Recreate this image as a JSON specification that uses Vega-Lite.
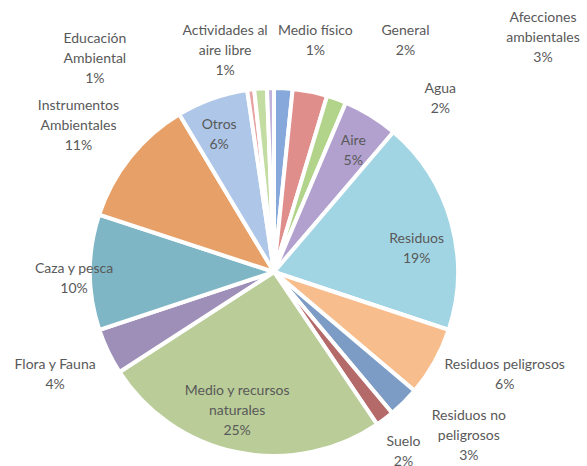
{
  "$schema": "https://vega.github.io/schema/vega-lite/v6.json",
  "autosize": "none",
  "width": 548,
  "height": 388,
  "padding": {"left": 0, "top": 78, "right": 39, "bottom": 0},
  "background": "white",
  "title": {"text": "ANUAL 2017", "font": "Lato", "fontSize": 27, "fontWeight": "bold", "color": "#000000", "anchor": "middle", "frame": "group", "baseline": "alphabetic", "offset": -10, "dx": 24, "dy": 10},
  "config": {"view": {"stroke": null}, "text": {"font": "Lato"}},
  "data": {"values": [
    {"orden": 1, "categoria": "General", "rotulo": "General", "share": 0.016},
    {"orden": 2, "categoria": "Afecciones ambientales", "rotulo": "Afecciones\nambientales", "share": 0.030},
    {"orden": 3, "categoria": "Agua", "rotulo": "Agua", "share": 0.017},
    {"orden": 4, "categoria": "Aire", "rotulo": "Aire", "share": 0.048},
    {"orden": 5, "categoria": "Residuos", "rotulo": "Residuos", "share": 0.186},
    {"orden": 6, "categoria": "Residuos peligrosos", "rotulo": "Residuos peligrosos", "share": 0.060},
    {"orden": 7, "categoria": "Residuos no peligrosos", "rotulo": "Residuos no\npeligrosos", "share": 0.027},
    {"orden": 8, "categoria": "Suelo", "rotulo": "Suelo", "share": 0.016},
    {"orden": 9, "categoria": "Medio y recursos naturales", "rotulo": "Medio y recursos\nnaturales", "share": 0.250},
    {"orden": 10, "categoria": "Flora y Fauna", "rotulo": "Flora y Fauna", "share": 0.040},
    {"orden": 11, "categoria": "Caza y pesca", "rotulo": "Caza y pesca", "share": 0.100},
    {"orden": 12, "categoria": "Instrumentos Ambientales", "rotulo": "Instrumentos\nAmbientales", "share": 0.112},
    {"orden": 13, "categoria": "Otros", "rotulo": "Otros", "share": 0.062},
    {"orden": 14, "categoria": "Educación Ambiental", "rotulo": "Educación\nAmbiental", "share": 0.006},
    {"orden": 15, "categoria": "Actividades al aire libre", "rotulo": "Actividades al\naire libre", "share": 0.011},
    {"orden": 16, "categoria": "Medio físico", "rotulo": "Medio físico", "share": 0.006}
  ]},
  "transform": [
    {"calculate": "datum.rotulo + '\\n' + format(datum.share, '.0%')", "as": "etiqueta"}
  ],
  "encoding": {
    "theta": {"field": "share", "type": "quantitative", "stack": true},
    "order": {"field": "orden", "type": "quantitative"},
    "detail": {"field": "categoria", "type": "nominal"}
  },
  "layer": [
    {
      "mark": {"type": "arc", "outerRadius": 184, "stroke": "white", "strokeWidth": 4},
      "encoding": {
        "color": {
          "field": "categoria", "type": "nominal", "legend": null,
          "scale": {
            "domain": ["General", "Afecciones ambientales", "Agua", "Aire", "Residuos", "Residuos peligrosos", "Residuos no peligrosos", "Suelo", "Medio y recursos naturales", "Flora y Fauna", "Caza y pesca", "Instrumentos Ambientales", "Otros", "Educación Ambiental", "Actividades al aire libre", "Medio físico"],
            "range": ["#86a8da", "#e08e8c", "#b1d38a", "#b2a1cf", "#a2d5e3", "#f8bd8c", "#7c9cc6", "#b46a68", "#bacd98", "#9e8fb8", "#7fb6c5", "#e6a068", "#aec6e8", "#e7a4a3", "#c2dca2", "#c0b2dc"]
          }
        }
      }
    },
    {
      "mark": {"type": "text", "radius": 145, "dx": 3, "dy": -8, "fontSize": 14, "lineHeight": 20, "fill": "#595959", "lineBreak": "\n", "align": "center", "baseline": "middle"},
      "encoding": {"text": {"condition": {"test": "datum.categoria === 'Aire'", "field": "etiqueta", "type": "nominal"}, "value": ""}}
    },
    {
      "mark": {"type": "text", "radius": 145, "dx": -6, "dy": -10, "fontSize": 14, "lineHeight": 20, "fill": "#595959", "lineBreak": "\n", "align": "center", "baseline": "middle"},
      "encoding": {"text": {"condition": {"test": "datum.categoria === 'Otros'", "field": "etiqueta", "type": "nominal"}, "value": ""}}
    },
    {
      "mark": {"type": "text", "radius": 145, "dx": 3, "dy": 6, "fontSize": 14, "lineHeight": 20, "fill": "#595959", "lineBreak": "\n", "align": "center", "baseline": "middle"},
      "encoding": {"text": {"condition": {"test": "datum.categoria === 'Residuos'", "field": "etiqueta", "type": "nominal"}, "value": ""}}
    },
    {
      "mark": {"type": "text", "radius": 145, "dx": -8, "dy": -23, "fontSize": 14, "lineHeight": 20, "fill": "#595959", "lineBreak": "\n", "align": "center", "baseline": "middle"},
      "encoding": {"text": {"condition": {"test": "datum.categoria === 'Medio y recursos naturales'", "field": "etiqueta", "type": "nominal"}, "value": ""}}
    },
    {
      "mark": {"type": "text", "radius": 245, "dx": 45, "dy": -3, "fontSize": 14, "lineHeight": 20, "fill": "#595959", "lineBreak": "\n", "align": "center", "baseline": "middle"},
      "encoding": {"text": {"condition": {"test": "datum.categoria === 'Caza y pesca'", "field": "etiqueta", "type": "nominal"}, "value": ""}}
    },
    {
      "mark": {"type": "text", "radius": 245, "dx": -4, "dy": -13, "fontSize": 14, "lineHeight": 20, "fill": "#595959", "lineBreak": "\n", "align": "center", "baseline": "middle"},
      "encoding": {"text": {"condition": {"test": "datum.categoria === 'Instrumentos Ambientales'", "field": "etiqueta", "type": "nominal"}, "value": ""}}
    },
    {
      "mark": {"type": "text", "radius": 245, "dx": 2, "dy": -13, "fontSize": 14, "lineHeight": 20, "fill": "#595959", "lineBreak": "\n", "align": "center", "baseline": "middle"},
      "encoding": {"text": {"condition": {"test": "datum.categoria === 'Flora y Fauna'", "field": "etiqueta", "type": "nominal"}, "value": ""}}
    },
    {
      "mark": {"type": "text", "radius": 245, "dx": 17, "dy": -27, "fontSize": 14, "lineHeight": 20, "fill": "#595959", "lineBreak": "\n", "align": "center", "baseline": "middle"},
      "encoding": {"text": {"condition": {"test": "datum.categoria === 'Residuos peligrosos'", "field": "etiqueta", "type": "nominal"}, "value": ""}}
    },
    {
      "mark": {"type": "text", "radius": 245, "dx": 22, "dy": -30, "fontSize": 14, "lineHeight": 20, "fill": "#595959", "lineBreak": "\n", "align": "center", "baseline": "middle"},
      "encoding": {"text": {"condition": {"test": "datum.categoria === 'Residuos no peligrosos'", "field": "etiqueta", "type": "nominal"}, "value": ""}}
    },
    {
      "mark": {"type": "text", "radius": 245, "dx": -18, "dy": -26, "fontSize": 14, "lineHeight": 20, "fill": "#595959", "lineBreak": "\n", "align": "center", "baseline": "middle"},
      "encoding": {"text": {"condition": {"test": "datum.categoria === 'Suelo'", "field": "etiqueta", "type": "nominal"}, "value": ""}}
    },
    {
      "mark": {"type": "text", "radius": 245, "dx": -148, "dy": 10, "fontSize": 14, "lineHeight": 20, "fill": "#595959", "lineBreak": "\n", "align": "center", "baseline": "middle"},
      "encoding": {"text": {"condition": {"test": "datum.categoria === 'Educación Ambiental'", "field": "etiqueta", "type": "nominal"}, "value": ""}}
    },
    {
      "mark": {"type": "text", "radius": 245, "dx": -31, "dy": 3, "fontSize": 14, "lineHeight": 20, "fill": "#595959", "lineBreak": "\n", "align": "center", "baseline": "middle"},
      "encoding": {"text": {"condition": {"test": "datum.categoria === 'Actividades al aire libre'", "field": "etiqueta", "type": "nominal"}, "value": ""}}
    },
    {
      "mark": {"type": "text", "radius": 245, "dx": 46, "dy": 4, "fontSize": 14, "lineHeight": 20, "fill": "#595959", "lineBreak": "\n", "align": "center", "baseline": "middle"},
      "encoding": {"text": {"condition": {"test": "datum.categoria === 'Medio físico'", "field": "etiqueta", "type": "nominal"}, "value": ""}}
    },
    {
      "mark": {"type": "text", "radius": 245, "dx": 119, "dy": 4, "fontSize": 14, "lineHeight": 20, "fill": "#595959", "lineBreak": "\n", "align": "center", "baseline": "middle"},
      "encoding": {"text": {"condition": {"test": "datum.categoria === 'General'", "field": "etiqueta", "type": "nominal"}, "value": ""}}
    },
    {
      "mark": {"type": "text", "radius": 245, "dx": 221, "dy": -14, "fontSize": 14, "lineHeight": 20, "fill": "#595959", "lineBreak": "\n", "align": "center", "baseline": "middle"},
      "encoding": {"text": {"condition": {"test": "datum.categoria === 'Afecciones ambientales'", "field": "etiqueta", "type": "nominal"}, "value": ""}}
    },
    {
      "mark": {"type": "text", "radius": 245, "dx": 83, "dy": 47, "fontSize": 14, "lineHeight": 20, "fill": "#595959", "lineBreak": "\n", "align": "center", "baseline": "middle"},
      "encoding": {"text": {"condition": {"test": "datum.categoria === 'Agua'", "field": "etiqueta", "type": "nominal"}, "value": ""}}
    }
  ]
}
